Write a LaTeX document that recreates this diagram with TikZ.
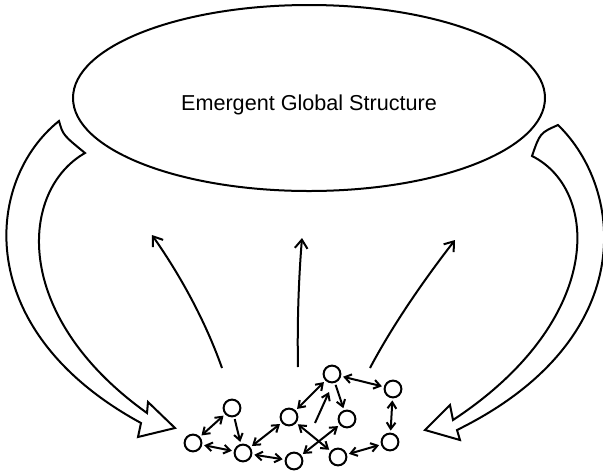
\documentclass[tikz,border=0pt]{standalone}
\usepackage{fontspec}
\setmainfont{Liberation Sans}
\usetikzlibrary{arrows.meta,shapes.geometric}
\begin{document}
\begin{tikzpicture}[x=0.75pt,y=-0.75pt,
  agent/.style={circle,draw,line width=1.5pt,minimum size=12.6pt,inner sep=0pt,fill=white},
  link/.style={line width=1.5pt,{Straight Barb[length=4.8pt,width=6.6pt]}-{Straight Barb[length=4.8pt,width=6.6pt]},shorten <=1.5pt,shorten >=1.5pt},
  onelink/.style={line width=1.5pt,-{Straight Barb[length=4.8pt,width=6.6pt]},shorten <=1.5pt,shorten >=1.5pt},
  rise/.style={line width=1.5pt,-{Straight Barb[length=6.5pt,width=9.5pt]}},
  hollow/.style={line width=1.5pt,fill=white,line join=miter}]
\useasboundingbox (0,0) rectangle (603,472);

% global structure
\node[draw,ellipse,line width=1.5pt,minimum width=354pt,minimum height=139.5pt,inner sep=0pt] (glob) at (309,98) {};
\node[font=\fontsize{16.2}{18}\selectfont,inner sep=0pt] (title) at (309,105) {Emergent Global Structure};

% hollow feedback arrows
\draw[hollow] (59,121) .. controls (63,135) .. (85,153)
  .. controls (20,190) and (10,315) .. (147,413)
  -- (148,402) -- (175,428) -- (138,437) -- (141,423)
  .. controls (-30,330) and (-15,180) .. (59,121) -- cycle;
\draw[hollow] (558,125) .. controls (540,133) .. (532,156)
  .. controls (600,190) and (605,320) .. (453,420)
  -- (450,405) -- (425,430) -- (460,440) -- (457,430)
  .. controls (640,340) and (625,190) .. (558,125) -- cycle;

% agents
\node[agent] (n1) at (232,408) {};
\node[agent] (n2) at (193,443) {};
\node[agent] (n3) at (243,453) {};
\node[agent] (n4) at (294,461) {};
\node[agent] (n5) at (289,417) {};
\node[agent] (n6) at (332,374) {};
\node[agent] (n7) at (347,419) {};
\node[agent] (n8) at (338,457) {};
\node[agent] (n9) at (393,389) {};
\node[agent] (n10) at (390,442) {};

% upward arrows
\coordinate (ls) at (222,368);
\coordinate (lt) at (152,235);
\coordinate (ms) at (298,367);
\coordinate (mt) at (302,238);
\coordinate (rs) at (370,368);
\coordinate (rt) at (455,240);
\draw[rise] (ls) .. controls (205,320) and (180,275) .. (lt);
\draw[rise] (ms) .. controls (297,320) and (299,275) .. (mt);
\draw[rise] (rs) .. controls (390,330) and (420,285) .. (rt);

% local interactions
\draw[link] (n1) -- (n2);
\draw[onelink] (n1) -- (n3);
\draw[link] (n2) -- (n3);
\draw[link] (n3) -- (n4);
\draw[link] (n3) -- (n5);
\draw[link] (n5) -- (n6);
\draw[onelink] (n6) -- (n7);
\draw[link] (n6) -- (n9);
\draw[link] (n9) -- (n10);
\draw[link] (n10) -- (n8);
\draw[link] (n5) -- (n8);
\draw[link] (n7) -- (n4);
\coordinate (fs) at (315,423);
\coordinate (fe) at (329,392);
\draw[onelink,shorten <=0pt,shorten >=0pt] (fs) -- (fe);
\end{tikzpicture}
\end{document}
